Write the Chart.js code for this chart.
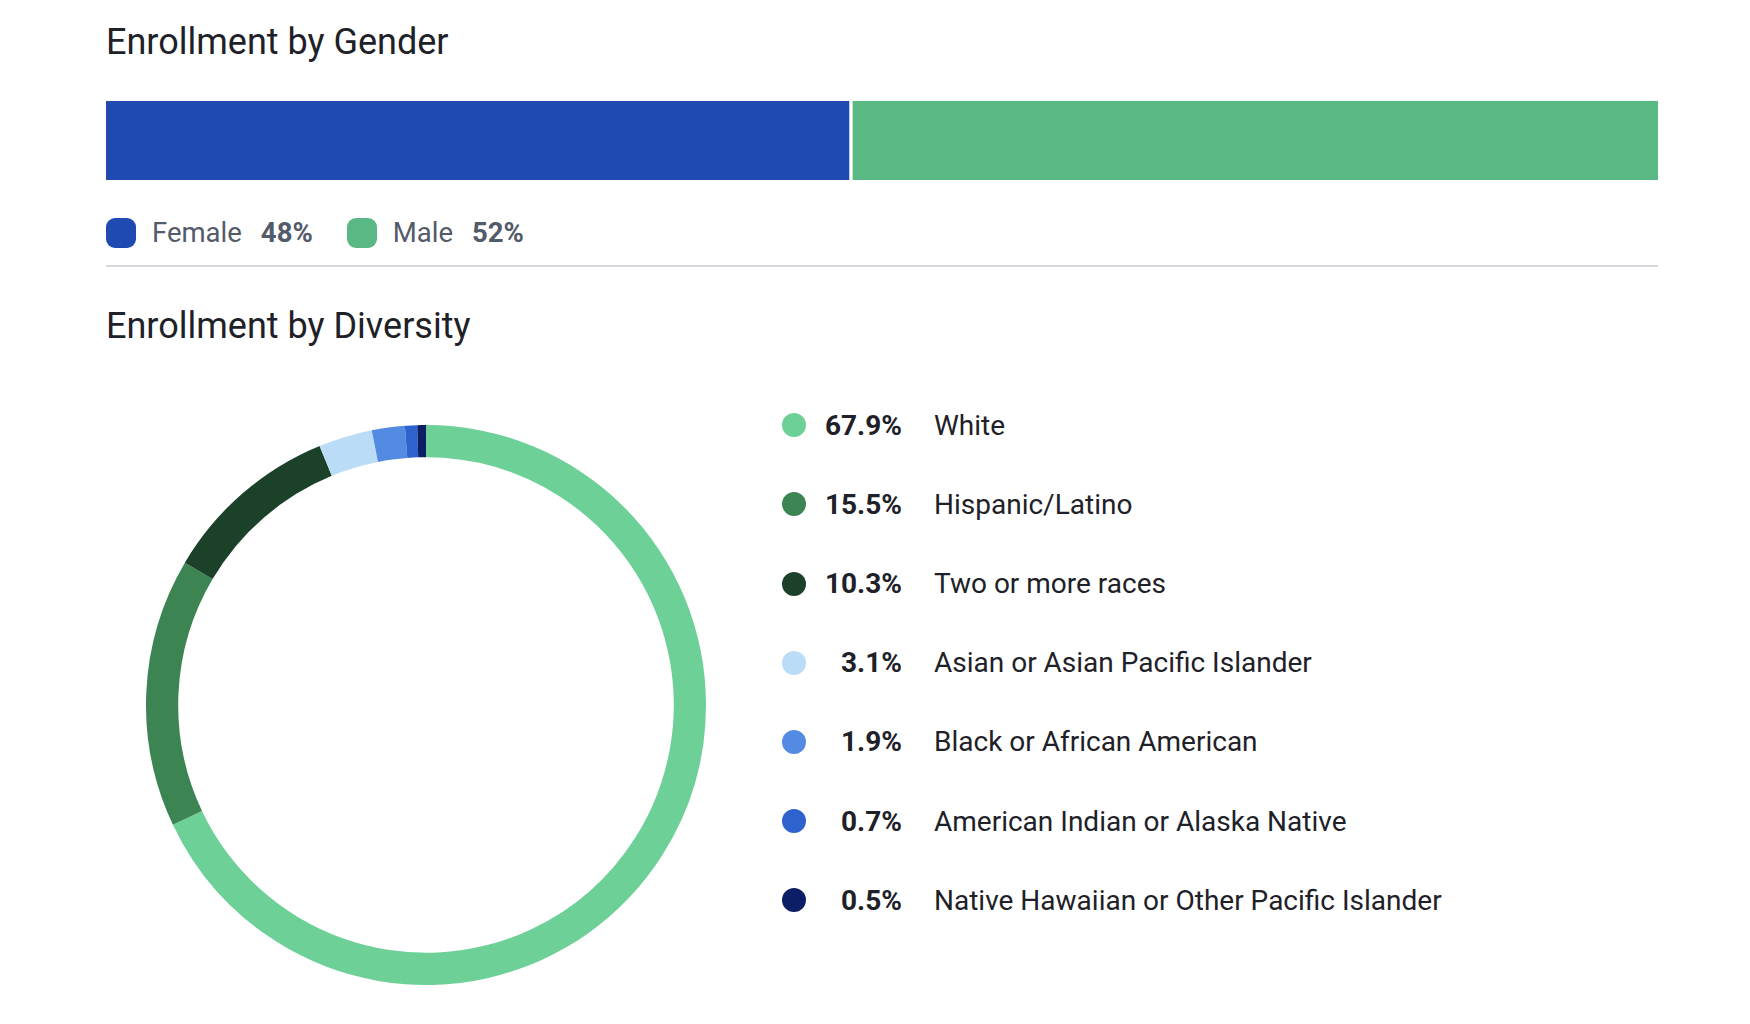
<!DOCTYPE html>
<html>
<head>
<meta charset="utf-8">
<script src="https://cdn.jsdelivr.net/npm/chart.js@4.4.0/dist/chart.umd.min.js"></script>
<style>
  html, body { margin: 0; padding: 0; background: #ffffff; }
  body { width: 1750px; height: 1024px; position: relative; overflow: hidden; font-family: Roboto, "Noto Sans", sans-serif; }
  .title { position: absolute; left: 106px; font-size: 36px; line-height: 36px; color: #1e2128; font-weight: 400; white-space: nowrap; }
  #genderWrap { position: absolute; left: 106px; top: 100.5px; width: 1552px; height: 79px; }
  #genderLegend { position: absolute; left: 106px; top: 219px; height: 28px; display: flex; align-items: center; font-size: 27.5px; line-height: 28px; color: #535a69; white-space: nowrap; }
  .gItem { display: flex; align-items: center; margin-right: 34px; }
  .gDot { width: 30px; height: 30px; border-radius: 9px; margin-right: 16px; }
  .gVal { font-weight: 700; margin-left: 19px; }
  #rule { position: absolute; left: 106px; top: 265px; width: 1552px; height: 2px; background: #d5d8dd; }
  #donutWrap { position: absolute; left: 146px; top: 425px; width: 560px; height: 560px; }
  #divLegend { position: absolute; left: 782px; top: 411.7px; }
  .dRow { position: relative; height: 79.2px; font-size: 28px; line-height: 28px; color: #1e2128; white-space: nowrap; }
  .dDot { position: absolute; left: 0; top: 1.5px; width: 24px; height: 24px; border-radius: 50%; }
  .dPct { position: absolute; left: 30px; width: 90px; text-align: right; font-weight: 700; top: 0; }
  .dLab { position: absolute; left: 152px; top: 0; }
</style>
</head>
<body>
<div class="title" style="top:23.5px">Enrollment by Gender</div>
<div id="genderWrap"><canvas id="genderChart" width="1552" height="79"></canvas></div>
<div id="genderLegend"></div>
<div id="rule"></div>
<div class="title" style="top:308px">Enrollment by Diversity</div>
<div id="donutWrap"><canvas id="donutChart" width="560" height="560"></canvas></div>
<div id="divLegend"></div>
<script>
// ---- Data ----
const genderLabels = ["Female", "Male"];
const genderValues = [48, 52];
const genderColors = ["#1f4ab1", "#5ab884"];

const diversityLabels = [
  "White",
  "Hispanic/Latino",
  "Two or more races",
  "Asian or Asian Pacific Islander",
  "Black or African American",
  "American Indian or Alaska Native",
  "Native Hawaiian or Other Pacific Islander"
];
const diversityValues = [67.9, 15.5, 10.3, 3.1, 1.9, 0.7, 0.5];
const diversityColors = ["#6dd096", "#3d8453", "#1b4129", "#bbdcf7", "#528be1", "#2e62cc", "#0c1f66"];

// ---- Gender stacked bar ----
const genderDatasets = genderLabels.map((lab, i) => ({
  label: lab,
  data: [genderValues[i]],
  backgroundColor: genderColors[i],
  borderColor: "#ffffff",
  borderSkipped: false,
  borderWidth: i === 0 ? {top: 0, right: 2, bottom: 0, left: 0} : {top: 0, right: 0, bottom: 0, left: 2},
  barPercentage: 1,
  categoryPercentage: 1
}));

new Chart(document.getElementById("genderChart"), {
  type: "bar",
  data: { labels: ["Gender"], datasets: genderDatasets },
  options: {
    indexAxis: "y",
    responsive: false,
    animation: false,
    layout: { padding: 0 },
    plugins: { legend: { display: false }, tooltip: { enabled: false } },
    scales: {
      x: { stacked: true, min: 0, max: 100, display: false },
      y: { stacked: true, display: false }
    }
  }
});

// Gender legend (HTML text)
const gl = document.getElementById("genderLegend");
genderLabels.forEach((lab, i) => {
  const item = document.createElement("div");
  item.className = "gItem";
  const dot = document.createElement("div");
  dot.className = "gDot";
  dot.style.background = genderColors[i];
  const t = document.createElement("span");
  t.textContent = lab;
  const v = document.createElement("span");
  v.className = "gVal";
  v.textContent = genderValues[i] + "%";
  item.appendChild(dot); item.appendChild(t); item.appendChild(v);
  gl.appendChild(item);
});

// ---- Diversity doughnut ----
new Chart(document.getElementById("donutChart"), {
  type: "doughnut",
  data: {
    labels: diversityLabels,
    datasets: [{
      data: diversityValues,
      backgroundColor: diversityColors,
      borderWidth: 0,
      hoverOffset: 0
    }]
  },
  options: {
    responsive: false,
    animation: false,
    cutout: "88.5%",
    layout: { padding: 0 },
    plugins: { legend: { display: false }, tooltip: { enabled: false } }
  }
});

// Diversity legend (HTML text)
const dl = document.getElementById("divLegend");
diversityLabels.forEach((lab, i) => {
  const row = document.createElement("div");
  row.className = "dRow";
  const dot = document.createElement("div");
  dot.className = "dDot";
  dot.style.background = diversityColors[i];
  const p = document.createElement("span");
  p.className = "dPct";
  p.textContent = diversityValues[i].toFixed(1) + "%";
  const l = document.createElement("span");
  l.className = "dLab";
  l.textContent = lab;
  row.appendChild(dot); row.appendChild(p); row.appendChild(l);
  dl.appendChild(row);
});
</script>
</body>
</html>
